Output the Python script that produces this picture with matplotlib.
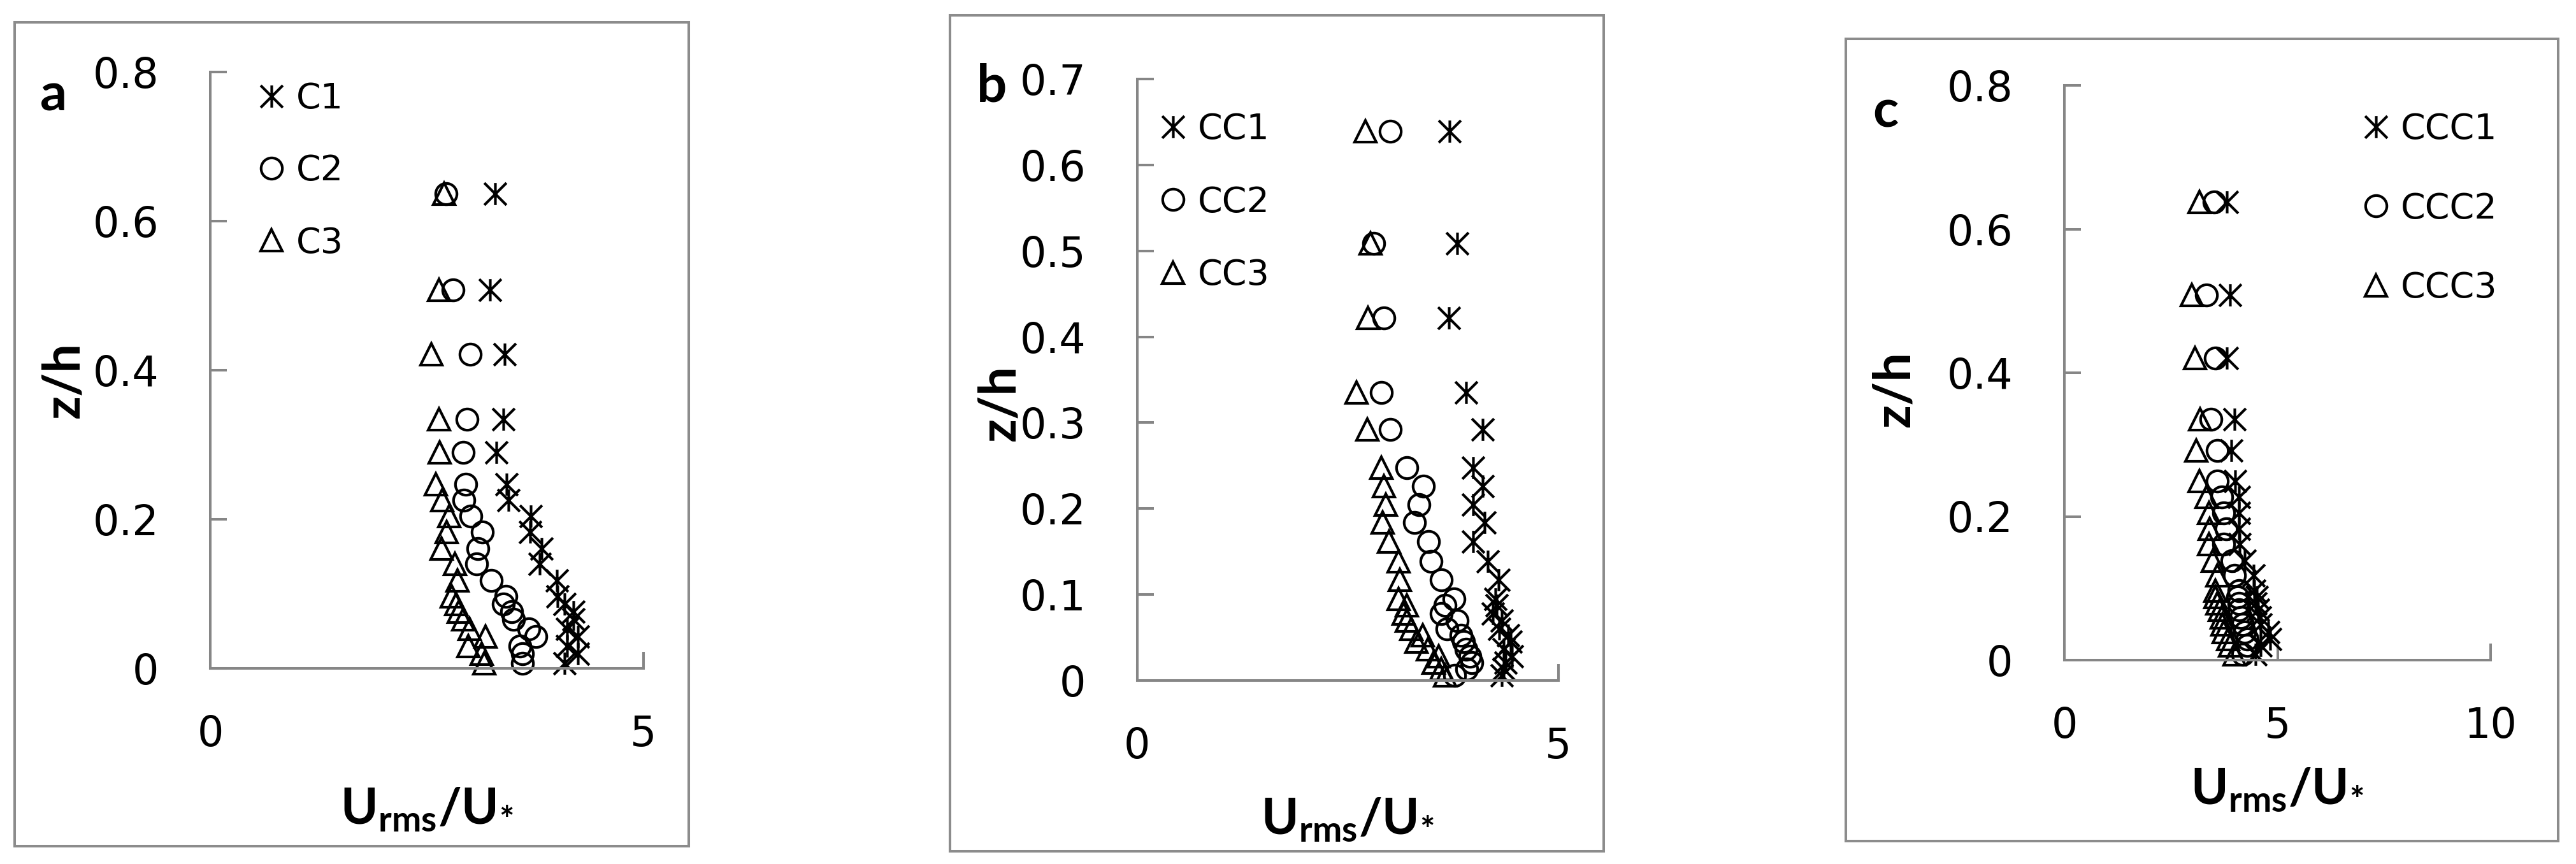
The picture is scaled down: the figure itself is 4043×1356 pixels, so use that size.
import matplotlib
matplotlib.use("Agg")
import matplotlib.pyplot as plt
from matplotlib.path import Path
from matplotlib.patches import Rectangle

plt.rcParams['font.family'] = ['DejaVu Sans']
plt.rcParams['mathtext.fontset'] = 'custom'
plt.rcParams['mathtext.rm'] = 'Lato'
plt.rcParams['mathtext.bf'] = 'Lato:bold'

# ---------------- data ----------------
# Panel a
z_a = [0.637, 0.508, 0.421, 0.334, 0.290, 0.247, 0.226, 0.204, 0.183, 0.161, 0.140,
       0.118, 0.097, 0.086, 0.076, 0.066, 0.053, 0.043, 0.030, 0.020, 0.007]
C1 = [3.29, 3.23, 3.40, 3.38, 3.30, 3.42, 3.44, 3.70, 3.69, 3.82, 3.80,
      4.00, 4.01, 4.09, 4.19, 4.19, 4.12, 4.24, 4.12, 4.24, 4.09]
C2 = [2.72, 2.80, 3.00, 2.96, 2.92, 2.95, 2.93, 3.01, 3.14, 3.09, 3.07,
      3.24, 3.41, 3.38, 3.48, 3.50, 3.68, 3.76, 3.57, 3.60, 3.60]
C3 = [2.70, 2.64, 2.55, 2.64, 2.65, 2.60, 2.68, 2.76, 2.73, 2.67, 2.82,
      2.85, 2.79, 2.84, 2.87, 2.92, 2.99, 3.18, 2.98, 3.13, 3.16]

# Panel b
z_b = [0.639, 0.509, 0.422, 0.335, 0.292, 0.248, 0.226, 0.205, 0.184, 0.162, 0.139, 0.117,
       0.095, 0.0875, 0.078, 0.070, 0.060, 0.053, 0.045, 0.036, 0.028, 0.021, 0.013, 0.006]
CC1 = [3.71, 3.80, 3.70, 3.90, 4.10, 3.99, 4.10, 3.99, 4.12, 3.99, 4.16, 4.29,
       4.25, 4.27, 4.22, 4.33, 4.30, 4.40, 4.43, 4.35, 4.45, 4.37, 4.35, 4.33]
CC2 = [3.00, 2.81, 2.93, 2.90, 3.00, 3.20, 3.40, 3.34, 3.29, 3.46, 3.49, 3.61,
       3.76, 3.65, 3.61, 3.80, 3.68, 3.84, 3.87, 3.90, 3.95, 3.97, 3.91, 3.77]
CC3 = [2.71, 2.77, 2.74, 2.60, 2.73, 2.90, 2.93, 2.95, 2.91, 2.99, 3.10, 3.12,
       3.10, 3.20, 3.16, 3.20, 3.25, 3.39, 3.31, 3.45, 3.58, 3.52, 3.61, 3.65]

# Panel c
z_c = [0.638, 0.508, 0.420, 0.335, 0.292, 0.249, 0.227, 0.205, 0.183, 0.161, 0.138,
       0.118, 0.097, 0.088, 0.079, 0.070, 0.059, 0.050, 0.039, 0.029, 0.020, 0.008]
CCC1 = [3.81, 3.89, 3.81, 3.99, 3.91, 4.01, 4.09, 4.09, 4.09, 4.11, 4.23,
        4.44, 4.46, 4.52, 4.48, 4.54, 4.59, 4.61, 4.78, 4.83, 4.60, 4.48]
CCC2 = [3.51, 3.33, 3.54, 3.44, 3.59, 3.59, 3.69, 3.74, 3.79, 3.74, 3.93,
        3.99, 4.09, 4.06, 4.09, 4.09, 4.14, 4.19, 4.23, 4.29, 4.29, 4.19]
CCC3 = [3.17, 2.99, 3.06, 3.19, 3.09, 3.17, 3.34, 3.39, 3.41, 3.39, 3.49,
        3.59, 3.54, 3.54, 3.59, 3.64, 3.69, 3.71, 3.74, 3.84, 3.89, 3.99]

yticks_a = [0, 0.2, 0.4, 0.6, 0.8]
yticks_b = [0, 0.1, 0.2, 0.3, 0.4, 0.5, 0.6, 0.7]
yticks_c = [0, 0.2, 0.4, 0.6, 0.8]
xticks_ab = [0, 5]
xticks_c = [0, 5, 10]

# ---------------- layout ----------------
W, H = 4043, 1356
fig = plt.figure(figsize=(W / 100, H / 100), dpi=100)

GRAY = '#8c8c8c'
AXGRAY = '#868686'

asterisk = Path([(0, -1), (0, 1), (-1, -1), (1, 1), (-1, 1), (1, -1)],
                [Path.MOVETO, Path.LINETO] * 3)

def px_rect(l, t, r, b):
    return [l / W, 1 - b / H, (r - l) / W, (b - t) / H]

# frames
for (l, t, r, b) in [(23, 35, 1081, 1328), (1491, 24, 2517, 1336), (2897, 61, 4015, 1320)]:
    fig.patches.append(Rectangle((l / W, 1 - b / H), (r - l) / W, (b - t) / H,
                                 transform=fig.transFigure, fill=False,
                                 edgecolor=GRAY, linewidth=2.9, zorder=0))

panels = [
    dict(rect=px_rect(330, 113, 1010, 1049), z=z_a, s=[C1, C2, C3], names=['C1', 'C2', 'C3'],
         xlim=(0, 5), ylim=(0, 0.8), xt=xticks_ab, yt=yticks_a,
         leg=(404, 128), lsp=1.07, letter='a', lpos=(63, 173),
         xl=(670, 1293), yl=(100, 596)),
    dict(rect=px_rect(1785, 124, 2446, 1068), z=z_b, s=[CC1, CC2, CC3], names=['CC1', 'CC2', 'CC3'],
         xlim=(0, 5), ylim=(0, 0.7), xt=xticks_ab, yt=yticks_b,
         leg=(1819, 176), lsp=1.09, letter='b', lpos=(1533, 160),
         xl=(2115, 1309), yl=(1569, 632)),
    dict(rect=px_rect(3240, 134, 3909, 1036), z=z_c, s=[CCC1, CCC2, CCC3], names=['CCC1', 'CCC2', 'CCC3'],
         xlim=(0, 10), ylim=(0, 0.8), xt=xticks_c, yt=yticks_c,
         leg=(3707, 176), lsp=1.27, letter='c', lpos=(2939, 199),
         xl=(3574, 1262), yl=(2973, 610)),
]

markers = [asterisk, 'o', '^']
msizes = [25, 24, 24]

def fmt(v):
    return '0' if v == 0 else ('%g' % v)

for p in panels:
    ax = fig.add_axes(p['rect'])
    for vals, name, mk, ms in zip(p['s'], p['names'], markers, msizes):
        ax.plot(vals, p['z'], linestyle='none', marker=mk, markersize=ms,
                markerfacecolor='none', markeredgecolor='black', markeredgewidth=3.0,
                label=name, clip_on=False)
    ax.set_xlim(*p['xlim'])
    ax.set_ylim(*p['ylim'])
    ax.set_xticks(p['xt'])
    ax.set_yticks(p['yt'])
    ax.set_xticklabels([fmt(v) for v in p['xt']])
    ax.set_yticklabels([fmt(v) for v in p['yt']])
    for sp in ['top', 'right']:
        ax.spines[sp].set_visible(False)
    for sp in ['left', 'bottom']:
        ax.spines[sp].set_color(AXGRAY)
        ax.spines[sp].set_linewidth(2.9)
    ax.tick_params(axis='both', direction='in', length=19, width=2.9, color=AXGRAY,
                   labelsize=47, labelcolor='black')
    ax.tick_params(axis='y', pad=58)
    ax.tick_params(axis='x', pad=52)
    ax.patch.set_alpha(0)

    lx, ly = p['leg']
    ax.legend(loc='upper left', bbox_to_anchor=(lx / W, 1 - ly / H),
              bbox_transform=fig.transFigure, frameon=False, fontsize=40,
              borderpad=0, borderaxespad=0, handlelength=0.8, handletextpad=0.3,
              labelspacing=p['lsp'], markerscale=1.0)

    fig.text(p['lpos'][0] / W, 1 - p['lpos'][1] / H, p['letter'], fontsize=60,
             fontweight='bold', family='Lato', ha='left', va='baseline')
    fig.text(p['xl'][0] / W, 1 - p['xl'][1] / H,
             r'$\mathbf{U}_{\mathbf{rms}}\mathbf{/U}_{\mathbf{*}}$',
             fontsize=57, ha='center', va='baseline')
    fig.text(p['yl'][0] / W, 1 - p['yl'][1] / H, 'z/h', fontsize=58, fontweight='bold',
             family='Lato', rotation=90, ha='center', va='center')

fig.savefig('out.png', dpi=100, facecolor='white')
